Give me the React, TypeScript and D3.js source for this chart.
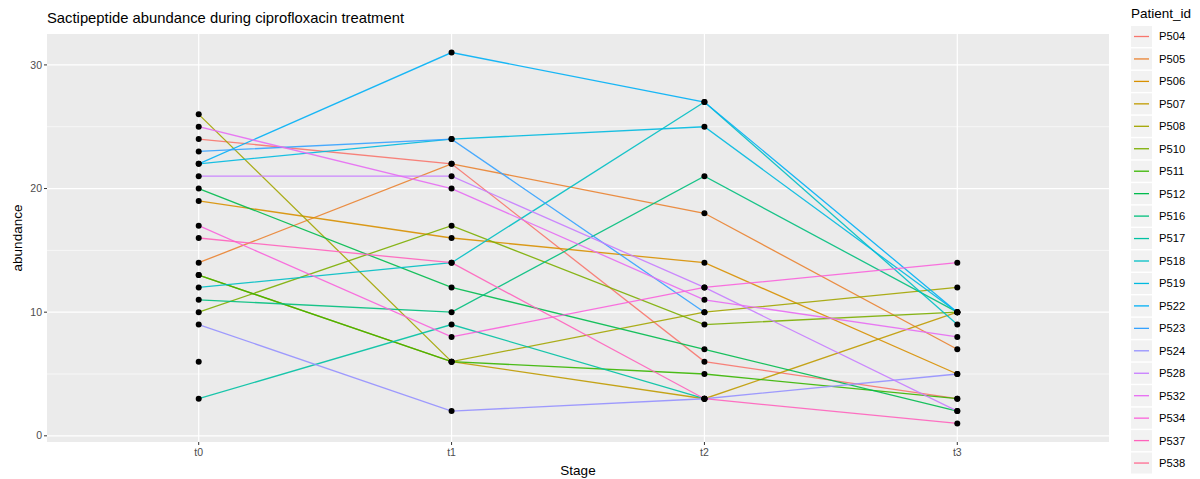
import React from "react";
import * as d3 from "d3";

// Abundance per patient at each treatment stage (null = not measured)
const stages = ["t0", "t1", "t2", "t3"];
const patientIds = [
  "P504", "P505", "P506", "P507", "P508", "P510", "P511", "P512", "P516", "P517",
  "P518", "P519", "P522", "P523", "P524", "P528", "P532", "P534", "P537", "P538",
];
const t0Values = [24, 14, 19, 13, 26, 10, 13, 20, 11, 3, 12, 22, 22, 23, 9, 21, 25, 17, 16, 6];
const t1Values = [22, 22, 16, 6, 6, 17, 6, 12, 10, 9, 14, 24, 31, 24, 2, 21, 20, 8, 14, null];
const t2Values = [6, 18, 14, 3, 10, 9, 5, 7, 21, 3, 27, 25, 27, 10, 3, 12, 11, 12, 3, null];
const t3Values = [3, 7, 5, 10, 12, 10, 3, 2, 10, null, 9, 10, 10, null, 5, 2, 8, 14, 1, null];
const yTicks = [0, 10, 20, 30];
const yMinorTicks = [5, 15, 25];

// Discrete hue palette, one colour per patient (polar-LUV hues 15..357, C=100, L=65)
const palette = [
  "#F8766D", "#EA8331", "#D89000", "#C09B00", "#A3A500", "#7CAE00", "#39B600", "#00BB4E", "#00BF7D", "#00C1A3",
  "#00BFC4", "#00BAE0", "#00B0F6", "#35A2FF", "#9590FF", "#C77CFF", "#E76BF3", "#FA62DB", "#FF62BC", "#FF6C91",
];

const W = 1200;
const H = 479;
const panel = { left: 47, right: 1109, top: 34, bottom: 442 };
const FONT = "'Liberation Sans', Arial, Helvetica, sans-serif";

type Row = { id: string; values: (number | null)[] };
const rows: Row[] = patientIds.map((id, i) => ({
  id,
  values: [t0Values[i], t1Values[i], t2Values[i], t3Values[i]],
}));

export default function App() {
  const x = d3.scalePoint<string>().domain(stages).range([panel.left, panel.right]).padding(0.6);
  const y = d3.scaleLinear().domain([-0.5, 32.5]).range([panel.bottom, panel.top]);
  const color = d3.scaleOrdinal<string, string>().domain(patientIds).range(palette);

  const line = d3
    .line<{ s: string; v: number | null }>()
    .defined((d) => d.v !== null)
    .x((d) => x(d.s) as number)
    .y((d) => y(d.v as number));

  const legendX = 1131;
  const legendY0 = 26;
  const legendStep = 22.45;

  return (
    <svg width={W} height={H} style={{ position: "absolute", left: 0, top: 0, background: "#fff" }}>
      <rect x={0} y={0} width={W} height={H} fill="#ffffff" />
      {/* panel */}
      <rect
        x={panel.left}
        y={panel.top}
        width={panel.right - panel.left}
        height={panel.bottom - panel.top}
        fill="#EBEBEB"
      />
      {yMinorTicks.map((t) => (
        <line key={"mn" + t} x1={panel.left} x2={panel.right} y1={y(t)} y2={y(t)} stroke="#fff" strokeWidth={0.6} />
      ))}
      {yTicks.map((t) => (
        <line key={"mj" + t} x1={panel.left} x2={panel.right} y1={y(t)} y2={y(t)} stroke="#fff" strokeWidth={1.2} />
      ))}
      {stages.map((s) => (
        <line key={"vx" + s} x1={x(s)} x2={x(s)} y1={panel.top} y2={panel.bottom} stroke="#fff" strokeWidth={1.2} />
      ))}

      {/* patient trajectories */}
      {rows.map((r) => (
        <path
          key={"l" + r.id}
          d={line(stages.map((s, i) => ({ s, v: r.values[i] }))) || ""}
          fill="none"
          stroke={color(r.id)}
          strokeWidth={1.3}
          strokeOpacity={0.9}
        />
      ))}
      {rows.map((r) =>
        r.values.map((v, i) =>
          v === null ? null : (
            <circle key={"p" + r.id + i} cx={x(stages[i])} cy={y(v)} r={3} fill="#000" />
          )
        )
      )}

      {/* y axis */}
      {yTicks.map((t) => (
        <g key={"yt" + t}>
          <line x1={panel.left - 3} x2={panel.left} y1={y(t)} y2={y(t)} stroke="#333" strokeWidth={1} />
          <text x={panel.left - 5} y={y(t)} dy="0.35em" textAnchor="end" fontFamily={FONT} fontSize={10.5} fill="#4D4D4D">
            {t}
          </text>
        </g>
      ))}
      {/* x axis */}
      {stages.map((s) => (
        <g key={"xt" + s}>
          <line x1={x(s)} x2={x(s)} y1={panel.bottom} y2={panel.bottom + 3} stroke="#333" strokeWidth={1} />
          <text x={x(s)} y={panel.bottom + 14} textAnchor="middle" fontFamily={FONT} fontSize={10.5} fill="#4D4D4D">
            {s}
          </text>
        </g>
      ))}
      <text
        x={(panel.left + panel.right) / 2}
        y={475}
        textAnchor="middle"
        fontFamily={FONT}
        fontSize={13.5}
        fill="#000"
      >
        Stage
      </text>
      <text
        transform={`translate(22,${(panel.top + panel.bottom) / 2}) rotate(-90)`}
        textAnchor="middle"
        fontFamily={FONT}
        fontSize={13.5}
        fill="#000"
      >
        abundance
      </text>

      {/* title */}
      <text x={panel.left} y={23} fontFamily={FONT} fontSize={14.8} fill="#000">
        Sactipeptide abundance during ciprofloxacin treatment
      </text>

      {/* legend */}
      <text x={legendX} y={18} fontFamily={FONT} fontSize={13.5} fill="#000">
        Patient_id
      </text>
      {rows.map((r, i) => {
        const cy = legendY0 + i * legendStep + 10.5;
        return (
          <g key={"lg" + r.id}>
            <rect x={legendX} y={cy - 10.5} width={21} height={21} fill="#F2F2F2" />
            <line x1={legendX + 3} x2={legendX + 18} y1={cy} y2={cy} stroke={color(r.id)} strokeWidth={1.3} />
            <text x={legendX + 28} y={cy} dy="0.35em" fontFamily={FONT} fontSize={11.2} fill="#000">
              {r.id}
            </text>
          </g>
        );
      })}
    </svg>
  );
}
